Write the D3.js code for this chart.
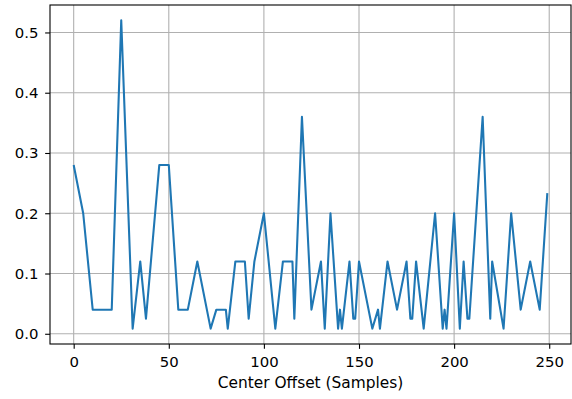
<!DOCTYPE html>
<html>
<head>
<meta charset="utf-8">
<script src="https://cdn.jsdelivr.net/npm/d3@7"></script>
<style>
  html, body { margin: 0; padding: 0; background: #fff; }
  svg { display: block; }
  text { font-family: "DejaVu Sans", sans-serif; }
</style>
</head>
<body>
<script>
// Data (vertices)
const offsets = [0,5,10,20,25,31,35,38,45,50,55,60,65,72,75,80,81,85,90,92,95,100,106,110,115,116,120,125,130,132,135,139,140,141,145,147,148,150,157,160,161,165,170,175,177,178,180,184,190,194,195,196,200,203,205,207,208,215,219,220,226,230,235,240,245,249];
const values  = [0.28,0.2,0.04,0.04,0.52,0.0086,0.12,0.025,0.28,0.28,0.04,0.04,0.12,0.0086,0.04,0.04,0.0086,0.12,0.12,0.025,0.12,0.2,0.0086,0.12,0.12,0.025,0.36,0.04,0.12,0.0086,0.2,0.0086,0.04,0.0086,0.12,0.025,0.025,0.12,0.0086,0.04,0.0086,0.12,0.04,0.12,0.025,0.025,0.12,0.0086,0.2,0.0086,0.04,0.0086,0.2,0.0086,0.12,0.025,0.025,0.36,0.025,0.12,0.0086,0.2,0.04,0.12,0.04,0.2335];
const xTicks = [0,50,100,150,200,250];
const yTicks = [0.0,0.1,0.2,0.3,0.4,0.5];
const xLabel = "Center Offset (Samples)";

const W = 572, H = 399;
const L = 50, R = 571, T = 5, B = 344;

const svg = d3.select("body").append("svg").attr("width", W).attr("height", H);

const xMin = d3.min(offsets), xMax = d3.max(offsets);
const yMin = d3.min(values), yMax = d3.max(values);
const xm = (xMax - xMin) * 0.05, ym = (yMax - yMin) * 0.05;
const x = d3.scaleLinear().domain([xMin - xm, xMax + xm]).range([L, R]);
const y = d3.scaleLinear().domain([yMin - ym, yMax + ym]).range([B, T]);

// grid
const grid = svg.append("g");
grid.selectAll("line.gx").data(xTicks).join("line")
  .attr("x1", d => x(d)).attr("x2", d => x(d)).attr("y1", T).attr("y2", B)
  .attr("stroke", "#b0b0b0").attr("stroke-width", 1.1);
grid.selectAll("line.gy").data(yTicks).join("line")
  .attr("y1", d => y(d)).attr("y2", d => y(d)).attr("x1", L).attr("x2", R)
  .attr("stroke", "#b0b0b0").attr("stroke-width", 1.1);

// line
const pts = offsets.map((o, i) => [o, values[i]]);
svg.append("path").datum(pts)
  .attr("fill", "none").attr("stroke", "#1f77b4").attr("stroke-width", 2.08)
  .attr("stroke-linejoin", "round").attr("stroke-linecap", "butt")
  .attr("d", d3.line().x(d => x(d[0])).y(d => y(d[1])));

// axes
const xAxis = d3.axisBottom(x).tickValues(xTicks).tickFormat(d3.format("d"))
  .tickSizeInner(4.86).tickSizeOuter(0).tickPadding(7.3);
const yAxis = d3.axisLeft(y).tickValues(yTicks).tickFormat(d3.format(".1f"))
  .tickSizeInner(4.86).tickSizeOuter(0).tickPadding(6.7);

const gx = svg.append("g").attr("transform", `translate(0,${B})`).call(xAxis);
const gy = svg.append("g").attr("transform", `translate(${L},0)`).call(yAxis);
[gx, gy].forEach(g => {
  g.select(".domain").remove();
  g.selectAll(".tick line").attr("stroke", "#000").attr("stroke-width", 1.1);
  g.selectAll(".tick text").attr("font-size", "14.9px").attr("fill", "#000")
    .attr("font-family", "DejaVu Sans, sans-serif");
});

// spines
svg.append("rect").attr("x", L).attr("y", T).attr("width", R - L).attr("height", B - T)
  .attr("fill", "none").attr("stroke", "#000").attr("stroke-width", 1.1);

// x label
svg.append("text").attr("x", (L + R) / 2).attr("y", 388.3)
  .attr("text-anchor", "middle").attr("font-size", "15.4px").attr("fill", "#000")
  .text(xLabel);
</script>
</body>
</html>
